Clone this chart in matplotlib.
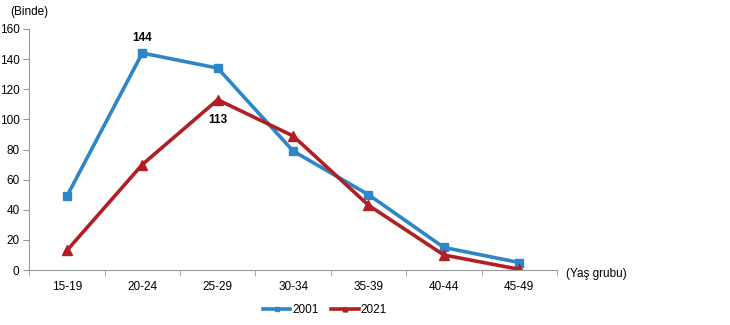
import matplotlib.pyplot as plt
import numpy as np

plt.rcParams['font.family'] = ['Liberation Sans', 'DejaVu Sans']

# Age groups and fertility rates (per thousand)
age_groups = ['15-19', '20-24', '25-29', '30-34', '35-39', '40-44', '45-49']
rate_2001 = [49, 144, 134, 79, 50, 15, 5]
rate_2021 = [13, 70, 113, 89, 43, 10, 0.5]

blue = '#2E86C8'
red = '#B01F24'

fig = plt.figure(figsize=(7.3, 3.25), dpi=100)
ax = fig.add_axes([0.040, 0.169, 0.723, 0.742])

x = np.arange(len(age_groups))
ax.plot(x, rate_2001, color=blue, lw=2.6, marker='s', markersize=6, label='2001')
ax.plot(x, rate_2021, color=red, lw=2.6, marker='^', markersize=7, label='2021')

# value labels on the peaks
ax.annotate('144', (1, rate_2001[1]), xytext=(0, 6.5), textcoords='offset points',
            ha='center', va='bottom', fontsize=8.5, fontweight='bold')
ax.annotate('113', (2, rate_2021[2]), xytext=(0, -10), textcoords='offset points',
            ha='center', va='top', fontsize=8.5, fontweight='bold')

ax.set_xlim(-0.5, 6.5)
ax.set_ylim(0, 160)
ax.set_yticks(range(0, 161, 20))
ax.set_xticks(x)
ax.set_xticklabels(age_groups)
ax.set_xticks(np.arange(-0.5, 7, 1), minor=True)
ax.tick_params(axis='x', which='major', length=0, pad=8, labelsize=8.5)
ax.tick_params(axis='x', which='minor', length=4, color='#999999')
ax.tick_params(axis='y', length=4, color='#999999', labelsize=8.5, pad=3)

for s in ['top', 'right']:
    ax.spines[s].set_visible(False)
for s in ['left', 'bottom']:
    ax.spines[s].set_color('#999999')

fig.text(0.014, 0.963, '(Binde)', fontsize=8.5, va='center')
fig.text(0.776, 0.158, '(Yaş grubu)', fontsize=8.5, va='center')

ax.legend(loc='center', bbox_to_anchor=(0.445, 0.046), bbox_transform=fig.transFigure,
          ncol=2, frameon=False, fontsize=8.5, handlelength=2.3, columnspacing=1.1,
          handletextpad=0.15, markerscale=0.5)

fig.savefig('out.png', dpi=100)
